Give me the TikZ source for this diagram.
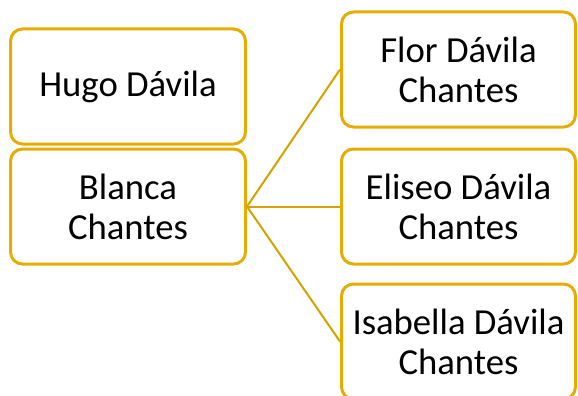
\documentclass[tikz,border=0pt]{standalone}
\usepackage{fontspec}
\setmainfont{Carlito}
\definecolor{gold}{RGB}{230,172,0}
\definecolor{goldline}{RGB}{214,162,0}
\begin{document}
\begin{tikzpicture}[x=1pt,y=1pt,
  person/.style={draw=gold, line width=3pt, rounded corners=12pt, fill=white,
    align=center, font=\fontsize{36.7}{40}\selectfont, inner sep=0pt},
  leftbox/.style={person, minimum width=235pt, minimum height=115pt},
  rightbox/.style={person, minimum width=234pt, minimum height=115pt},
  link/.style={draw=goldline, line width=2pt}]
\useasboundingbox (0,0) rectangle (578,-396);
\node[leftbox] (hugo) at (128,-86.5) {Hugo Dávila};
\node[leftbox] (blanca) at (128,-206.5) {Blanca\\Chantes};
\node[rightbox] (flor) at (458.5,-69.5) {Flor Dávila\\Chantes};
\node[rightbox] (eliseo) at (458.5,-206.5) {Eliseo Dávila\\Chantes};
\node[rightbox] (isabella) at (458.5,-341.5) {Isabella Dávila\\Chantes};
\draw[link] (blanca.east) -- (flor.west);
\draw[link] (blanca.east) -- (eliseo.west);
\draw[link] (blanca.east) -- (isabella.west);
\end{tikzpicture}
\end{document}
